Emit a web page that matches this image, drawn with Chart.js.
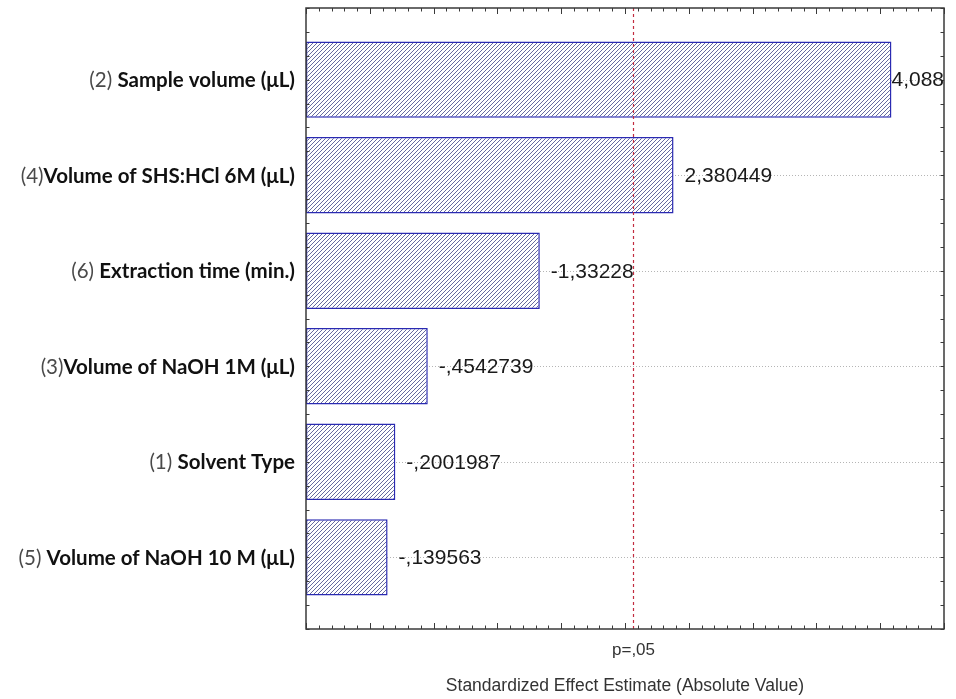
<!DOCTYPE html>
<html>
<head>
<meta charset="utf-8">
<script src="https://cdn.jsdelivr.net/npm/chart.js@4.4.1/dist/chart.umd.min.js"></script>
<style>
  html, body { margin: 0; padding: 0; background: #ffffff; }
  #c { display: block; }
</style>
</head>
<body>
<canvas id="c" width="956" height="699"></canvas>
<script>
// Pareto chart of standardized effects (absolute values), with the p = .05 threshold.
const factors = [
  "(2) Sample volume (μL)",
  "(4)Volume of SHS:HCl 6M (μL)",
  "(6) Extraction time (min.)",
  "(3)Volume of NaOH 1M (μL)",
  "(1) Solvent Type",
  "(5) Volume of NaOH 10 M (μL)"
];
const effects = [4.088, 2.380449, -1.33228, -0.4542739, -0.2001987, -0.139563];
const pCritical = 2.06;
const pLabel = "p=,05";
const axisTitle = "Standardized Effect Estimate (Absolute Value)";
const xRange = [-0.5, 4.5];
const yRange = [-0.75, 5.75];

// Statistica-style number text: decimal comma, no leading zero.
function statFormat(v) {
  const s = String(v).replace('.', ',');
  return s.replace(/^(-?)0,/, '$1,');
}

const canvas = document.getElementById('c');
const ctx = canvas.getContext('2d');

// Diagonal hatch fill for the bars.
const tile = document.createElement('canvas');
tile.width = 4; tile.height = 4;
const tc = tile.getContext('2d');
tc.fillStyle = '#ffffff';
tc.fillRect(0, 0, 4, 4);
tc.strokeStyle = '#666b9e';
tc.lineWidth = 1;
tc.beginPath();
tc.moveTo(-1, 5); tc.lineTo(5, -1);
tc.moveTo(-1, 1); tc.lineTo(1, -1);
tc.moveTo(3, 5); tc.lineTo(5, 3);
tc.stroke();
const hatch = ctx.createPattern(tile, 'repeat');

const framePlugin = {
  id: 'statFrame',
  beforeDatasetsDraw(chart) {
    const { ctx, chartArea: a, scales: { y } } = chart;
    ctx.save();
    ctx.strokeStyle = '#b5b5b5';
    ctx.lineWidth = 1;
    ctx.setLineDash([1, 2]);
    factors.forEach((f, i) => {
      const py = Math.round(y.getPixelForValue(i)) + 0.5;
      ctx.beginPath();
      ctx.moveTo(a.left, py);
      ctx.lineTo(a.right, py);
      ctx.stroke();
    });
    ctx.restore();
  },
  afterDatasetsDraw(chart) {
    const { ctx, chartArea: a, scales: { x, y } } = chart;
    ctx.save();

    // threshold line
    const px = Math.round(x.getPixelForValue(pCritical)) + 0.5;
    ctx.strokeStyle = '#c22c40';
    ctx.lineWidth = 1.2;
    ctx.setLineDash([3, 3]);
    ctx.beginPath();
    ctx.moveTo(px, a.top);
    ctx.lineTo(px, a.bottom);
    ctx.stroke();
    ctx.setLineDash([]);

    // frame
    ctx.strokeStyle = '#3a3a3a';
    ctx.lineWidth = 1.5;
    ctx.strokeRect(a.left, a.top, a.right - a.left, a.bottom - a.top);

    // inward ticks on top and bottom axes
    ctx.lineWidth = 1;
    ctx.strokeStyle = '#3a3a3a';
    const nx = Math.round((xRange[1] - xRange[0]) / 0.1);
    for (let k = 0; k <= nx; k++) {
      const tx = Math.round(x.getPixelForValue(xRange[0] + k * 0.1)) + 0.5;
      const len = k % 5 === 0 ? 6 : 3.5;
      ctx.beginPath();
      ctx.moveTo(tx, a.top); ctx.lineTo(tx, a.top + len);
      ctx.moveTo(tx, a.bottom); ctx.lineTo(tx, a.bottom - len);
      ctx.stroke();
    }
    // inward ticks on left and right axes
    const ny = Math.round((yRange[1] - yRange[0]) / 0.25);
    for (let k = 0; k <= ny; k++) {
      const ty = Math.round(y.getPixelForValue(yRange[0] + k * 0.25)) + 0.5;
      ctx.beginPath();
      ctx.moveTo(a.left, ty); ctx.lineTo(a.left + 3.5, ty);
      ctx.moveTo(a.right, ty); ctx.lineTo(a.right - 3.5, ty);
      ctx.stroke();
    }

    // value labels beside the bars
    ctx.font = '21px "Liberation Sans", Arial, sans-serif';
    ctx.fillStyle = '#1a1a1a';
    ctx.textBaseline = 'middle';
    ctx.textAlign = 'left';
    effects.forEach((v, i) => {
      const txt = statFormat(v);
      const w = ctx.measureText(txt).width;
      const end = x.getPixelForValue(Math.abs(v));
      const lx = Math.min(end + 11, a.right - w);
      ctx.fillText(txt, lx, y.getPixelForValue(i) + 1);
    });

    // factor labels: number prefix regular, name bold
    factors.forEach((f, i) => {
      const m = f.match(/^(\(\d+\)\s?)(.*)$/);
      const pre = m ? m[1] : '';
      const name = m ? m[2] : f;
      const ly = y.getPixelForValue(i) + 1;
      const right = a.left - 11;
      ctx.textAlign = 'right';
      ctx.font = 'bold 20.5px Lato, "Open Sans", sans-serif';
      ctx.fillStyle = '#111111';
      ctx.fillText(name, right, ly);
      const wn = ctx.measureText(name).width;
      ctx.font = '20.5px Lato, "Open Sans", sans-serif';
      ctx.fillStyle = '#4a4a4a';
      ctx.fillText(pre, right - wn, ly);
    });

    // threshold label and axis title
    ctx.textAlign = 'center';
    ctx.font = '17px "Liberation Sans", Arial, sans-serif';
    ctx.fillStyle = '#333333';
    ctx.fillText(pLabel, px, a.bottom + 21);
    ctx.font = '17.5px "Liberation Sans", Arial, sans-serif';
    ctx.fillText(axisTitle, (a.left + a.right) / 2, a.bottom + 57);

    ctx.restore();
  }
};

new Chart(ctx, {
  type: 'bar',
  data: {
    datasets: [{
      data: effects.map((v, i) => ({ x: Math.abs(v), y: i })),
      base: xRange[0],
      backgroundColor: hatch,
      borderColor: '#2a2ab2',
      borderWidth: 1.5,
      borderSkipped: false,
      barPercentage: 0.8,
      categoryPercentage: 1
    }]
  },
  options: {
    indexAxis: 'y',
    responsive: false,
    animation: false,
    devicePixelRatio: 1,
    layout: { padding: { left: 306, right: 12, top: 8, bottom: 70 } },
    scales: {
      x: { type: 'linear', min: xRange[0], max: xRange[1], display: false },
      y: {
        type: 'linear', min: yRange[0], max: yRange[1], reverse: true, offset: false, display: false,
        // one tick per factor so bar thickness follows the factor spacing
        afterBuildTicks(scale) { scale.ticks = factors.map((f, i) => ({ value: i })); }
      }
    },
    plugins: {
      legend: { display: false },
      tooltip: { enabled: false }
    }
  },
  plugins: [framePlugin]
});
</script>
</body>
</html>
